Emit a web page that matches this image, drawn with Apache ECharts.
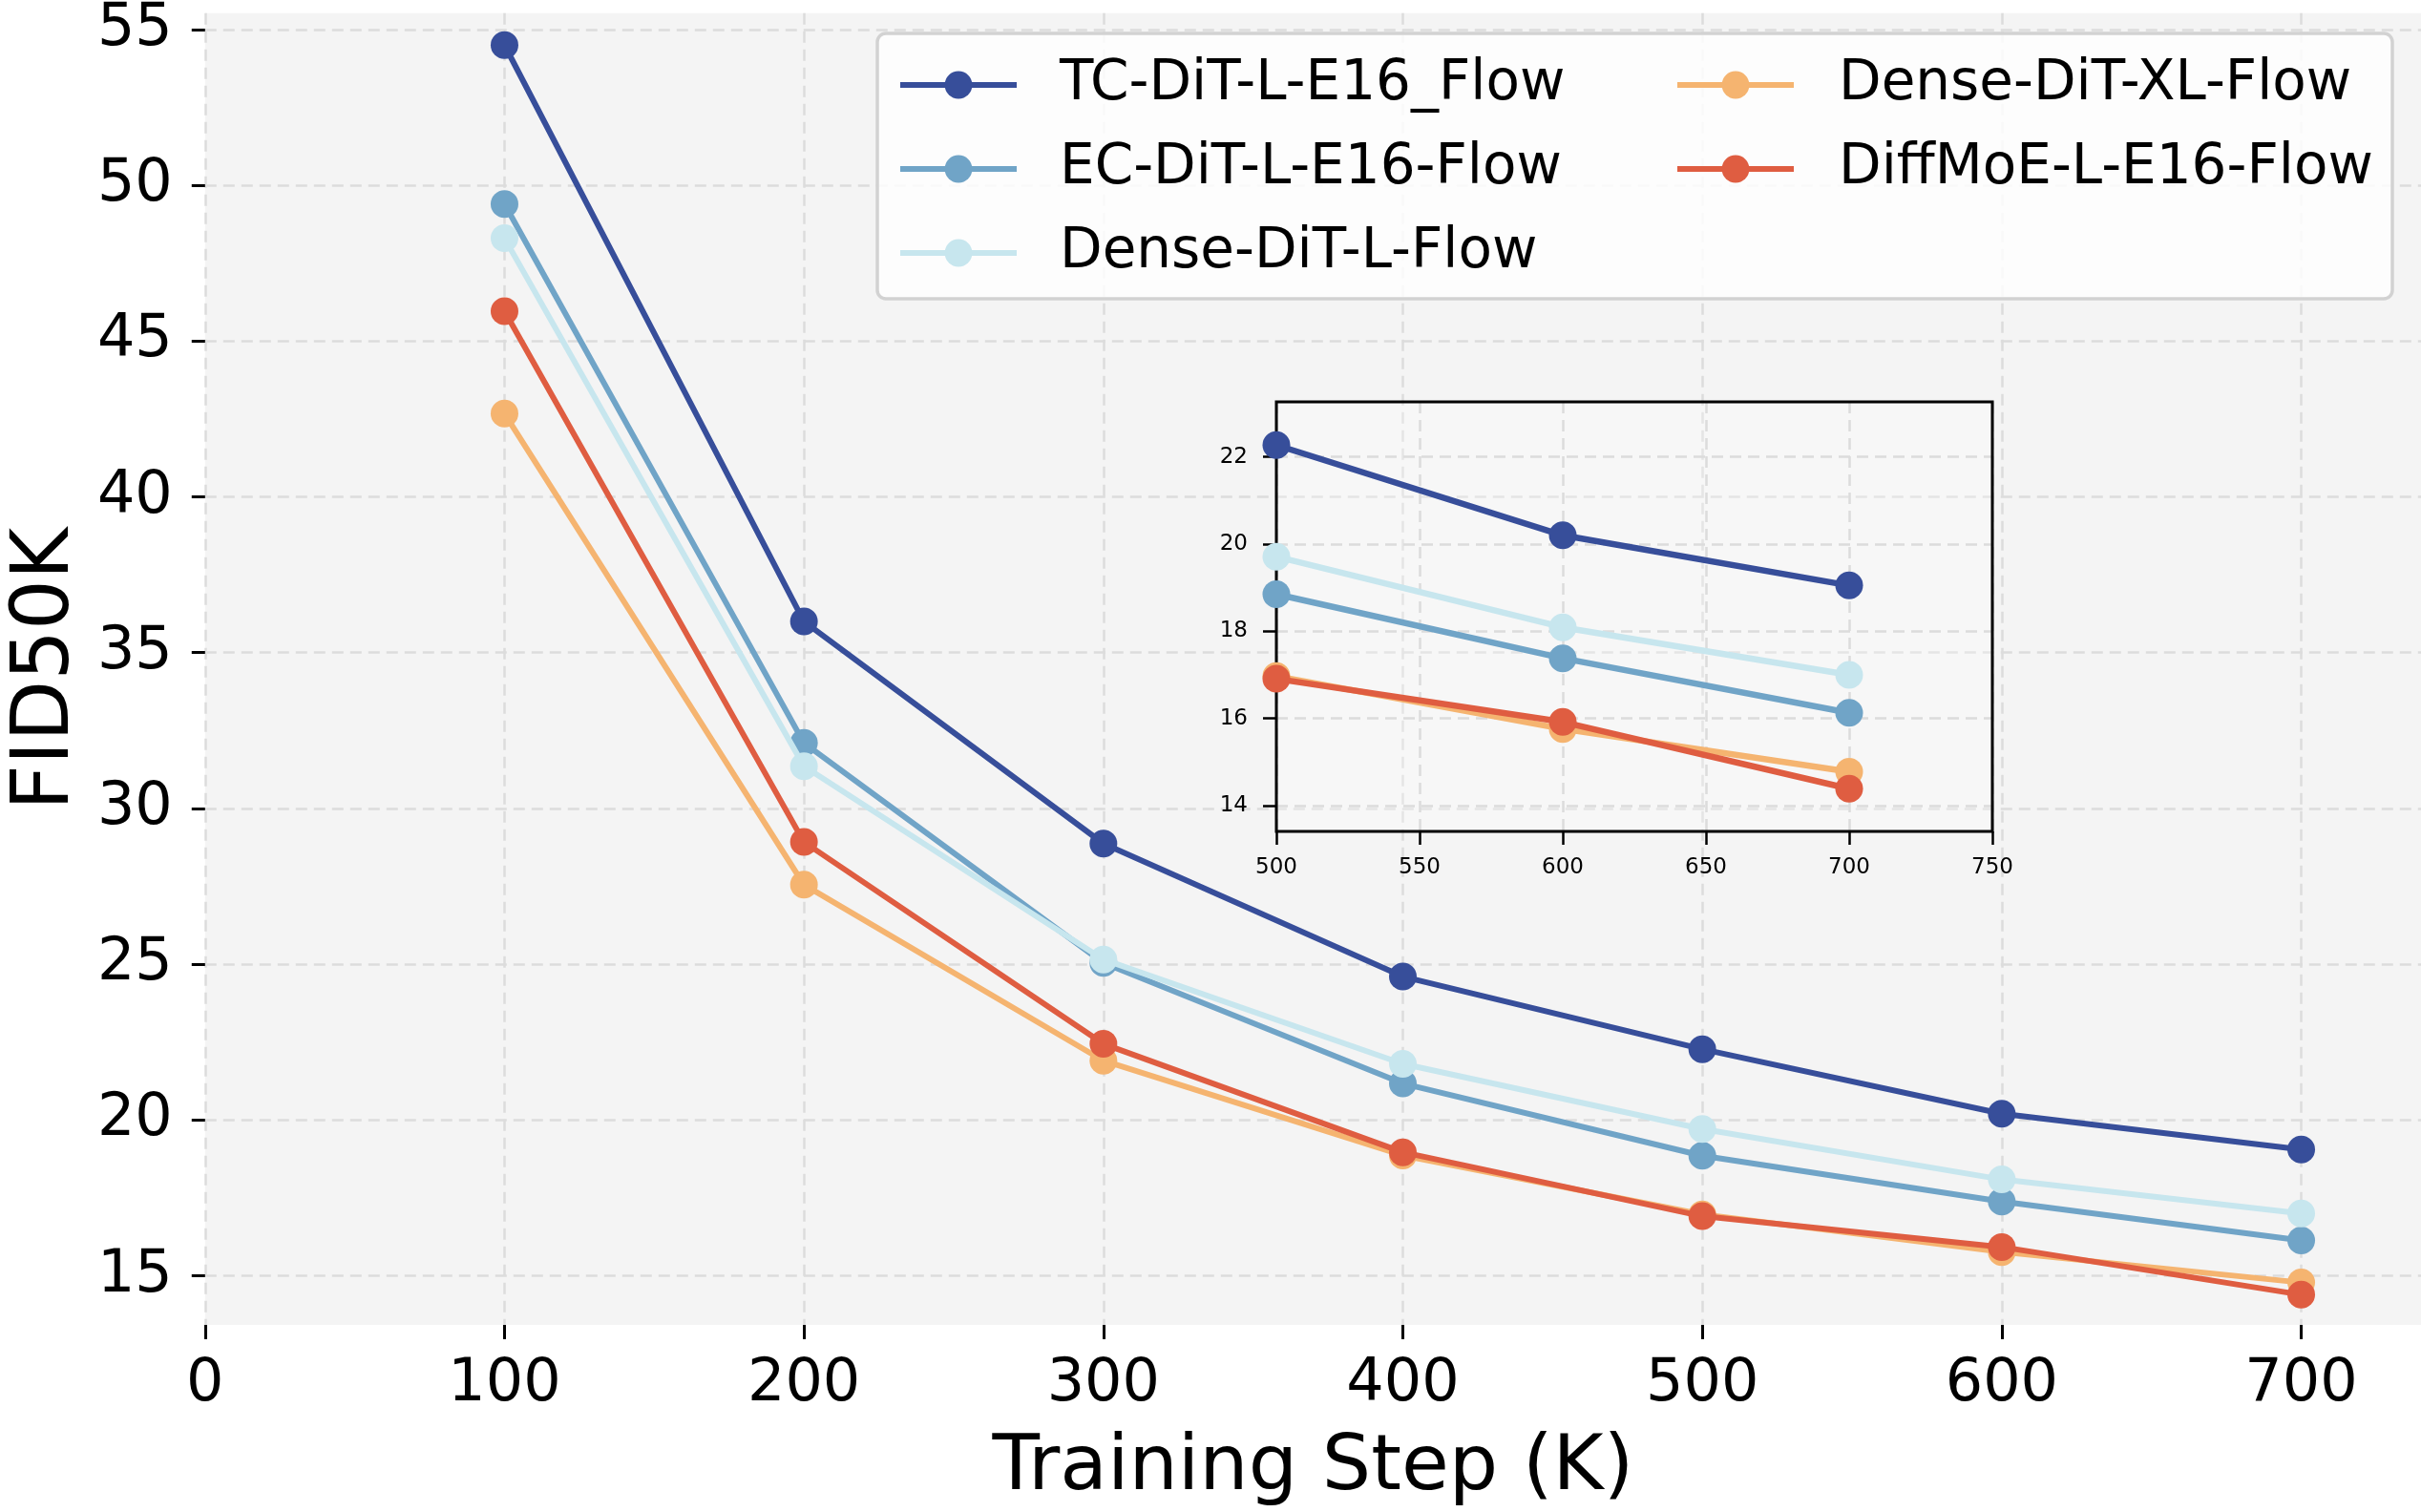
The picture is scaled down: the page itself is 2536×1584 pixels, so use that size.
<!DOCTYPE html>
<html>
<head>
<meta charset="utf-8">
<script src="https://cdn.jsdelivr.net/npm/echarts@6/dist/echarts.min.js"></script>
<style>
  html, body { margin: 0; padding: 0; background: #fff; }
  #chart { width: 2536px; height: 1584px; }
</style>
</head>
<body>
<div id="chart"></div>
<script>
// 训练步数 (K)
const steps = [100, 200, 300, 400, 500, 600, 700];
const yTicks = [15, 20, 25, 30, 35, 40, 45, 50, 55];
const xTicks = [0, 100, 200, 300, 400, 500, 600, 700];
const insetYTicks = [14, 16, 18, 20, 22];

const seriesNames = ["TC-DiT-L-E16_Flow", "EC-DiT-L-E16-Flow", "Dense-DiT-L-Flow", "Dense-DiT-XL-Flow", "DiffMoE-L-E16-Flow"];
const seriesColors = ["#374e9a", "#70a4c7", "#c7e6ee", "#f5b470", "#df5d41"];

const tcFlow = [54.5, 36.0, 28.87, 24.6, 22.27, 20.2, 19.05];
const ecFlow = [49.4, 32.1, 25.04, 21.17, 18.85, 17.38, 16.13];
const denseLFlow = [48.3, 31.35, 25.15, 21.8, 19.71, 18.09, 17.0];
const denseXLFlow = [42.67, 27.55, 21.9, 18.86, 16.97, 15.76, 14.78];
const diffMoEFlow = [45.96, 28.92, 22.44, 18.96, 16.91, 15.92, 14.39];

const seriesValues = [tcFlow, ecFlow, denseLFlow, denseXLFlow, diffMoEFlow];
const insetFrom = 4; // 500K 起

const FONT = "DejaVu Sans";
const gridLine = { show: true, lineStyle: { color: "#dcdcdc", width: 2.5, type: [12, 7] } };

// 放大图位置
const inset = { left: 1337, top: 421, width: 750, height: 450 };

const mainSeries = seriesNames.map((name, i) => ({
  name,
  type: "line",
  xAxisIndex: 0,
  yAxisIndex: 0,
  data: steps.map((s, j) => [s, seriesValues[i][j]]),
  symbol: "circle",
  symbolSize: 29,
  itemStyle: { color: seriesColors[i] },
  lineStyle: { color: seriesColors[i], width: 6 },
  z: 2 + i * 0.1,
  animation: false,
}));

const insetSeries = seriesNames.map((name, i) => ({
  name,
  type: "line",
  xAxisIndex: 1,
  yAxisIndex: 1,
  data: steps.slice(insetFrom).map((s, j) => [s, seriesValues[i][insetFrom + j]]),
  symbol: "circle",
  symbolSize: 29,
  itemStyle: { color: seriesColors[i] },
  lineStyle: { color: seriesColors[i], width: 6.5 },
  z: 6 + i * 0.1,
  animation: false,
}));

const legendText = { fontFamily: FONT, fontSize: 58, color: "#000", lineHeight: 58 };

const option = {
  backgroundColor: "#fff",
  animation: false,
  grid: [
    { left: 212, top: 7, right: 0, bottom: 191, show: true, backgroundColor: "#f4f4f4", borderWidth: 0 },
    Object.assign({ show: true, backgroundColor: "rgba(255,255,255,0.25)", borderWidth: 0, z: 5 }, inset),
  ],
  xAxis: [
    {
      type: "value", gridIndex: 0, min: 0, max: 740,
      name: "Training Step (K)", nameLocation: "middle", nameGap: 110,
      nameTextStyle: { fontFamily: FONT, fontSize: 81, color: "#000" },
      axisLine: { show: false },
      axisTick: { show: true, customValues: xTicks, length: 15, lineStyle: { color: "#000", width: 3 } },
      axisLabel: { customValues: xTicks, fontFamily: FONT, fontSize: 62, color: "#000", margin: 32 },
      splitLine: gridLine,
    },
    {
      type: "value", gridIndex: 1, min: 500, max: 750, interval: 50,
      axisLine: { show: false },
      axisTick: { show: true, length: 14, lineStyle: { color: "#000", width: 2.5 } },
      axisLabel: { fontFamily: FONT, fontSize: 23, color: "#000", margin: 27 },
      splitLine: gridLine,
      z: 5,
    },
  ],
  yAxis: [
    {
      type: "value", gridIndex: 0, min: 13.42, max: 55.53,
      name: "FID50K", nameLocation: "middle", nameGap: 118, nameRotate: 90,
      nameTextStyle: { fontFamily: FONT, fontSize: 83, color: "#000" },
      axisLine: { show: false },
      axisTick: { show: true, customValues: yTicks, length: 14, lineStyle: { color: "#000", width: 3 } },
      axisLabel: { customValues: yTicks, fontFamily: FONT, fontSize: 62, color: "#000", margin: 34 },
      splitLine: gridLine,
    },
    {
      type: "value", gridIndex: 1, min: 13.41, max: 23.26,
      axisLine: { show: false },
      axisTick: { show: true, customValues: insetYTicks, length: 14, lineStyle: { color: "#000", width: 2.5 } },
      axisLabel: { customValues: insetYTicks, fontFamily: FONT, fontSize: 23, color: "#000", margin: 30 },
      splitLine: gridLine,
      z: 5,
    },
  ],
  graphic: [
    {
      type: "rect", z: 3,
      shape: { x: 919, y: 35, width: 1587, height: 278, r: 9 },
      style: { fill: "rgba(255,255,255,0.82)", stroke: "#d2d2d2", lineWidth: 3.5 },
    },
    {
      // 放大图黑框
      type: "rect", z: 5.5,
      shape: { x: inset.left, y: inset.top, width: inset.width, height: inset.height },
      style: { fill: "none", stroke: "#000", lineWidth: 3 },
    },
  ],
  legend: [
    {
      data: seriesNames.slice(0, 3), orient: "vertical", left: 940, top: 60,
      itemWidth: 122, itemHeight: 36, itemGap: 30, padding: 0,
      lineStyle: { width: 6 },
      textStyle: Object.assign({ padding: [0, 0, 0, 40] }, legendText),
      selectedMode: false, z: 4,
    },
    {
      data: seriesNames.slice(3), orient: "vertical", left: 1754, top: 60,
      itemWidth: 122, itemHeight: 36, itemGap: 30, padding: 0,
      lineStyle: { width: 6 },
      textStyle: Object.assign({ padding: [0, 0, 0, 42] }, legendText),
      selectedMode: false, z: 4,
    },
  ],
  series: mainSeries.concat(insetSeries),
};

const chart = echarts.init(document.getElementById("chart"));
chart.setOption(option);
</script>
</body>
</html>
